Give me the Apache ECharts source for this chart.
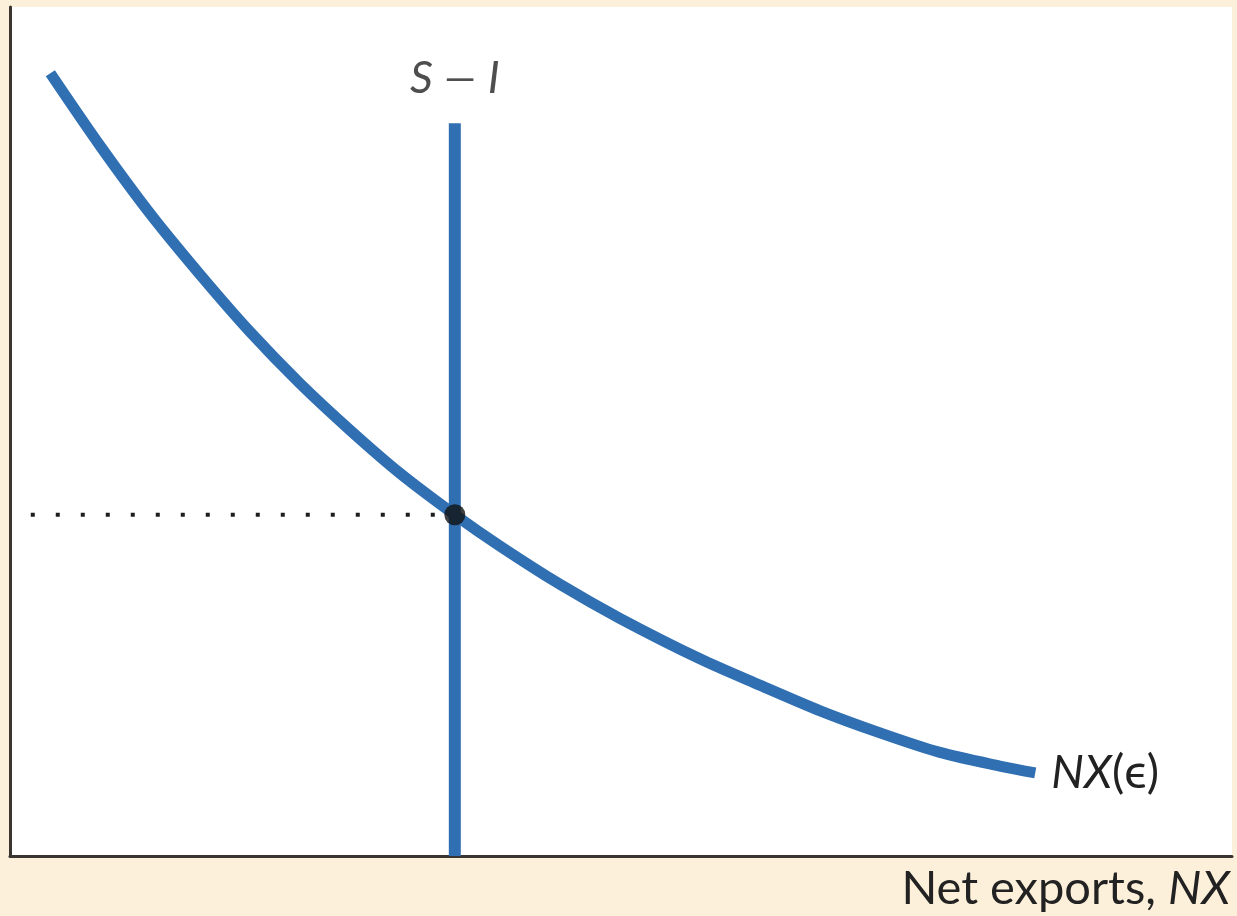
<!DOCTYPE html>
<html>
<head>
<meta charset="utf-8">
<style>
  html, body { margin: 0; padding: 0; background: #fdf0da; }
  #chart { width: 1237px; height: 916px; }
</style>
<script src="https://cdn.jsdelivr.net/npm/echarts@6/dist/echarts.min.js"></script>
</head>
<body>
<div id="chart"></div>
<script>
// Net exports schedule NX(ε): real exchange rate (y) against net exports (x)
const nxX = [3.3, 7.4, 11.5, 15.6, 19.6, 23.7, 27.8, 31.9, 36.4, 40.1, 45.0, 49.9, 56.5, 61.4, 66.3, 71.2, 76.1, 81.0, 83.9];
const nxY = [92.2, 83.6, 75.6, 68.4, 61.8, 55.7, 50.2, 45.1, 40.2, 36.5, 32.0, 28.0, 23.2, 20.1, 17.1, 14.5, 12.2, 10.6, 9.8];

// Vertical S − I schedule (saving minus investment, independent of ε)
const siX = 36.4;
const siTop = 86.3;

// Equilibrium: index of the point where S − I meets NX(ε)
const eqIndex = 8;
const dottedStartX = 1.7;

const curveData = nxX.map((x, i) => [x, nxY[i]]);
const eq = curveData[eqIndex];

const chart = echarts.init(document.getElementById('chart'));
const blue = '#2f6fb2';
const ink = '#222222';

chart.setOption({
  backgroundColor: '#fdf0da',
  animation: false,
  grid: {
    left: 10, right: 5, top: 7, bottom: 60,
    show: true, backgroundColor: '#ffffff', borderWidth: 0
  },
  xAxis: {
    type: 'value', min: 0, max: 100,
    axisLine: { show: true, onZero: false, lineStyle: { color: '#3a3530', width: 3 } },
    axisTick: { show: false }, axisLabel: { show: false }, splitLine: { show: false },
    name: 'Net exports, {i|NX}',
    nameLocation: 'end',
    nameGap: 0,
    nameTextStyle: {
      fontFamily: 'Lato', fontSize: 47, color: ink,
      align: 'right', verticalAlign: 'top', padding: [9, 2, 0, 0],
      rich: { i: { fontFamily: 'Lato', fontStyle: 'italic', fontSize: 47, color: ink } }
    }
  },
  yAxis: {
    type: 'value', min: 0, max: 100,
    axisLine: { show: true, onZero: false, lineStyle: { color: '#3a3530', width: 3 } },
    axisTick: { show: false }, axisLabel: { show: false }, splitLine: { show: false }
  },
  series: [
    {
      name: 'S − I',
      type: 'line',
      data: [[siX, 0], [siX, siTop]],
      symbol: 'none',
      lineStyle: { color: blue, width: 12, cap: 'butt' },
      z: 2
    },
    {
      name: 'NX(ε)',
      type: 'line',
      data: curveData,
      smooth: 0.3,
      symbol: 'none',
      lineStyle: { color: blue, width: 11, cap: 'butt', join: 'round' },
      endLabel: {
        show: true,
        distance: 16,
        formatter: '{i|NX}({n|ϵ})',
        fontFamily: 'Lato', fontSize: 46, color: ink,
        rich: {
          i: { fontFamily: 'Lato', fontStyle: 'italic', fontSize: 46, color: ink },
          n: { fontFamily: 'Lato', fontSize: 48, color: ink }
        }
      },
      z: 3
    },
    {
      name: 'level',
      type: 'line',
      data: [[dottedStartX, eq[1]], eq],
      symbol: 'none',
      lineStyle: { color: '#1e1e1e', width: 4, type: [4, 21], cap: 'butt' },
      z: 4
    },
    {
      name: 'label',
      type: 'scatter',
      data: [[siX, siTop]],
      symbolSize: 0,
      label: {
        show: true, position: 'top', distance: 22,
        formatter: '{i|S} {m|—} {i|I}',
        fontFamily: 'Lato', fontSize: 45, color: ink,
        rich: {
          i: { fontFamily: 'Lato', fontStyle: 'italic', fontSize: 45, color: ink },
          m: { fontFamily: 'Lato', fontSize: 40, color: ink }
        }
      },
      z: 5
    },
    {
      name: 'equilibrium',
      type: 'scatter',
      data: [eq],
      symbol: 'circle',
      symbolSize: 21,
      itemStyle: { color: '#111111' },
      z: 6
    }
  ]
});
</script>
</body>
</html>
